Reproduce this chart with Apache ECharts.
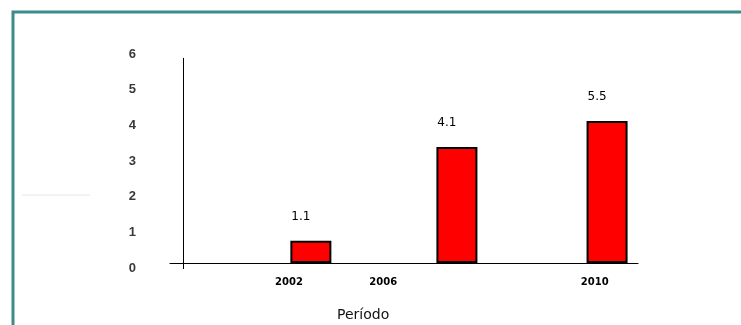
<!DOCTYPE html>
<html>
<head>
<meta charset="utf-8">
<script src="https://cdn.jsdelivr.net/npm/echarts@6/dist/echarts.min.js"></script>
<style>
  html, body { margin: 0; padding: 0; background: #fff; }
  #my-charts { width: 741px; height: 325px; }
</style>
</head>
<body>
<div id="my-charts"></div>
<script>
// data
var yearLabels = ['2002', '2006', '2010']
var yearPos = [23.3, 44.0, 90.5]
var barPos = [28.1, 60.2, 93.2]
var barValues = [0.62, 3.25, 3.98]
var valueLabels = ['1.1', '4.1', '5.5']
var yTicks = [0, 1, 2, 3, 4, 5, 6]

var myChart = echarts.init(document.getElementById('my-charts'))

var option = {
	animation: false,
	title: {
		text: 'Período',
		left: 332,
		top: 303,
		textStyle: { fontFamily: 'DejaVu Sans', fontSize: 14, fontWeight: 'normal', color: '#111' }
	},
	grid: { left: 170, right: 103, top: 49, bottom: 56 },
	graphic: [
		{
			type: 'rect',
			shape: { x: 13, y: 12, width: 760, height: 340 },
			style: { fill: 'none', stroke: '#3d8c8c', lineWidth: 3 },
			silent: true
		},
		{
			type: 'line',
			shape: { x1: 22, y1: 195, x2: 90, y2: 195 },
			style: { stroke: '#e6e6e6', lineWidth: 1 },
			silent: true
		}
	],
	xAxis: {
		type: 'value',
		min: -2.86,
		max: 100,
		splitLine: { show: false },
		axisTick: { show: false },
		axisLine: { show: true, onZero: true, lineStyle: { color: '#000', width: 1 } },
		axisLabel: {
			customValues: yearPos,
			margin: 8,
			fontFamily: 'DejaVu Sans',
			fontSize: 10,
			fontWeight: 'bold',
			color: '#000',
			formatter: function(v) {
				for (var i = 0; i < yearPos.length; i++) {
					if (Math.abs(yearPos[i] - v) < 0.01) return yearLabels[i]
				}
				return ''
			}
		}
	},
	yAxis: {
		type: 'value',
		min: -0.17,
		max: 6,
		splitLine: { show: false },
		axisTick: { show: false },
		axisLine: { show: false, onZero: false },
		axisLabel: {
			customValues: yTicks,
			margin: 34,
			verticalAlign: 'top',
			lineHeight: 10,
			fontFamily: 'Liberation Sans',
			fontSize: 13,
			fontWeight: 'bold',
			color: '#3a3a3a'
		}
	},
	series: [
		{
			type: 'bar',
			barWidth: 41,
			data: barPos.map(function(x, i) { return [x, barValues[i]] }),
			itemStyle: {
				color: '#ff0000',
				borderColor: '#000',
				borderWidth: 2
			},
			label: {
				show: true,
				position: 'top',
				distance: 18,
				offset: [-10, 0],
				fontFamily: 'DejaVu Sans',
				fontSize: 12,
				color: '#000',
				formatter: function(p) { return valueLabels[p.dataIndex] }
			},
			markLine: {
				silent: true,
				symbol: ['none', 'none'],
				label: { show: false },
				lineStyle: { color: '#000', width: 1, type: 'solid' },
				data: [[{ coord: [0, -0.17] }, { coord: [0, 5.75] }]]
			}
		}
	]
}

myChart.setOption(option)
</script>
</body>
</html>
